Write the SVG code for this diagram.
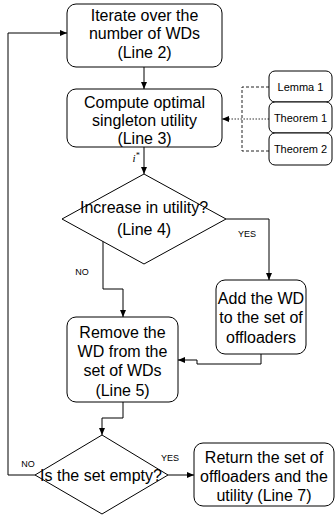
<svg xmlns="http://www.w3.org/2000/svg" width="335" height="518" viewBox="0 0 335 518">
<defs>
<style>
.box{fill:#fff;stroke:#000;stroke-width:1}
.t{font-family:"Liberation Sans",Arial,sans-serif;font-size:16px;fill:#000;text-anchor:middle}
.s{font-family:"Liberation Sans",Arial,sans-serif;font-size:11px;fill:#000;text-anchor:middle}
.l{font-family:"Liberation Sans",Arial,sans-serif;font-size:9px;fill:#000;text-anchor:middle}
.c{fill:none;stroke:#000;stroke-width:1}
.d{fill:none;stroke:#222;stroke-width:1;stroke-dasharray:3 2}
.o{fill:none;stroke:#333;stroke-width:1;stroke-dasharray:1.5 1.5}
</style>
<marker id="a" viewBox="0 0 8 8" refX="7" refY="4" markerWidth="8" markerHeight="8" markerUnits="userSpaceOnUse" orient="auto">
<path d="M0,1 L7,4 L0,7 Z" fill="#000"/>
</marker>
</defs>
<rect width="335" height="518" fill="#fff"/>
<g id="connectors">
<path class="c" d="M144,67 V89" marker-end="url(#a)"/>
<path class="c" d="M144,147 V174" marker-end="url(#a)"/>
<path class="c" d="M226,219 H269 V280" marker-end="url(#a)"/>
<path class="c" d="M103,241 V289 H123 V317" marker-end="url(#a)"/>
<path class="c" d="M261,354 V364 H197 V360 H178" marker-end="url(#a)"/>
<path class="c" d="M123,402 V418 H102 V435" marker-end="url(#a)"/>
<path class="c" d="M168,475 H194" marker-end="url(#a)"/>
<path class="c" d="M35,475 H8 V33 H67" marker-end="url(#a)"/>
<path class="d" d="M269,87 H242 V151 H269"/>
<path class="o" d="M269,119 H222" marker-end="url(#a)"/>
<text x="136" y="162" font-family="Liberation Serif,serif" font-style="italic" font-size="11" text-anchor="middle">i<tspan font-size="8" dy="-4">*</tspan></text>
<text class="l" x="247" y="237">YES</text>
<text class="l" x="82" y="275">NO</text>
<text class="l" x="170" y="461">YES</text>
<text class="l" x="28" y="467">NO</text>
</g>
<g id="n1">
<rect class="box" x="67" y="4" width="155" height="63" rx="9"/>
<text class="t" x="144.5" y="21">Iterate over the</text>
<text class="t" x="144.5" y="39">number of WDs</text>
<text class="t" x="144.5" y="58">(Line 2)</text>
</g>
<g id="n2">
<rect class="box" x="67" y="89" width="155" height="58" rx="9"/>
<text class="t" x="144.5" y="108">Compute optimal</text>
<text class="t" x="144.5" y="126">singleton utility</text>
<text class="t" x="144.5" y="144">(Line 3)</text>
</g>
<g id="lemma1">
<rect class="box" x="269" y="71" width="63" height="31" rx="6"/>
<text class="s" x="300.5" y="90.5">Lemma 1</text>
</g>
<g id="theorem1">
<rect class="box" x="269" y="102" width="63" height="31" rx="6"/>
<text class="s" x="300.5" y="121.5">Theorem 1</text>
</g>
<g id="theorem2">
<rect class="box" x="269" y="133" width="63" height="32" rx="6"/>
<text class="s" x="300.5" y="153">Theorem 2</text>
</g>
<g id="d1">
<path class="box" d="M144,174 L226,219 L144,264 L62,219 Z"/>
<text class="t" x="144" y="213">Increase in utility?</text>
<text class="t" x="144" y="235">(Line 4)</text>
</g>
<g id="add">
<rect class="box" x="216" y="280" width="90" height="74" rx="9"/>
<text class="t" x="261" y="304">Add the WD</text>
<text class="t" x="261" y="323">to the set of</text>
<text class="t" x="261" y="343">offloaders</text>
</g>
<g id="remove">
<rect class="box" x="67" y="317" width="111" height="85" rx="9"/>
<text class="t" x="122.5" y="338">Remove the</text>
<text class="t" x="122.5" y="357">WD from the</text>
<text class="t" x="122.5" y="376">set of WDs</text>
<text class="t" x="122.5" y="396">(Line 5)</text>
</g>
<g id="d2">
<path class="box" d="M102,435 L168,475 L102,514 L35,475 Z"/>
<text class="t" x="101" y="481">Is the set empty?</text>
</g>
<g id="ret">
<rect class="box" x="194" y="443" width="140" height="63" rx="9"/>
<text class="t" x="264" y="463">Return the set of</text>
<text class="t" x="264" y="482">offloaders and the</text>
<text class="t" x="264" y="501">utility (Line 7)</text>
</g>
</svg>
